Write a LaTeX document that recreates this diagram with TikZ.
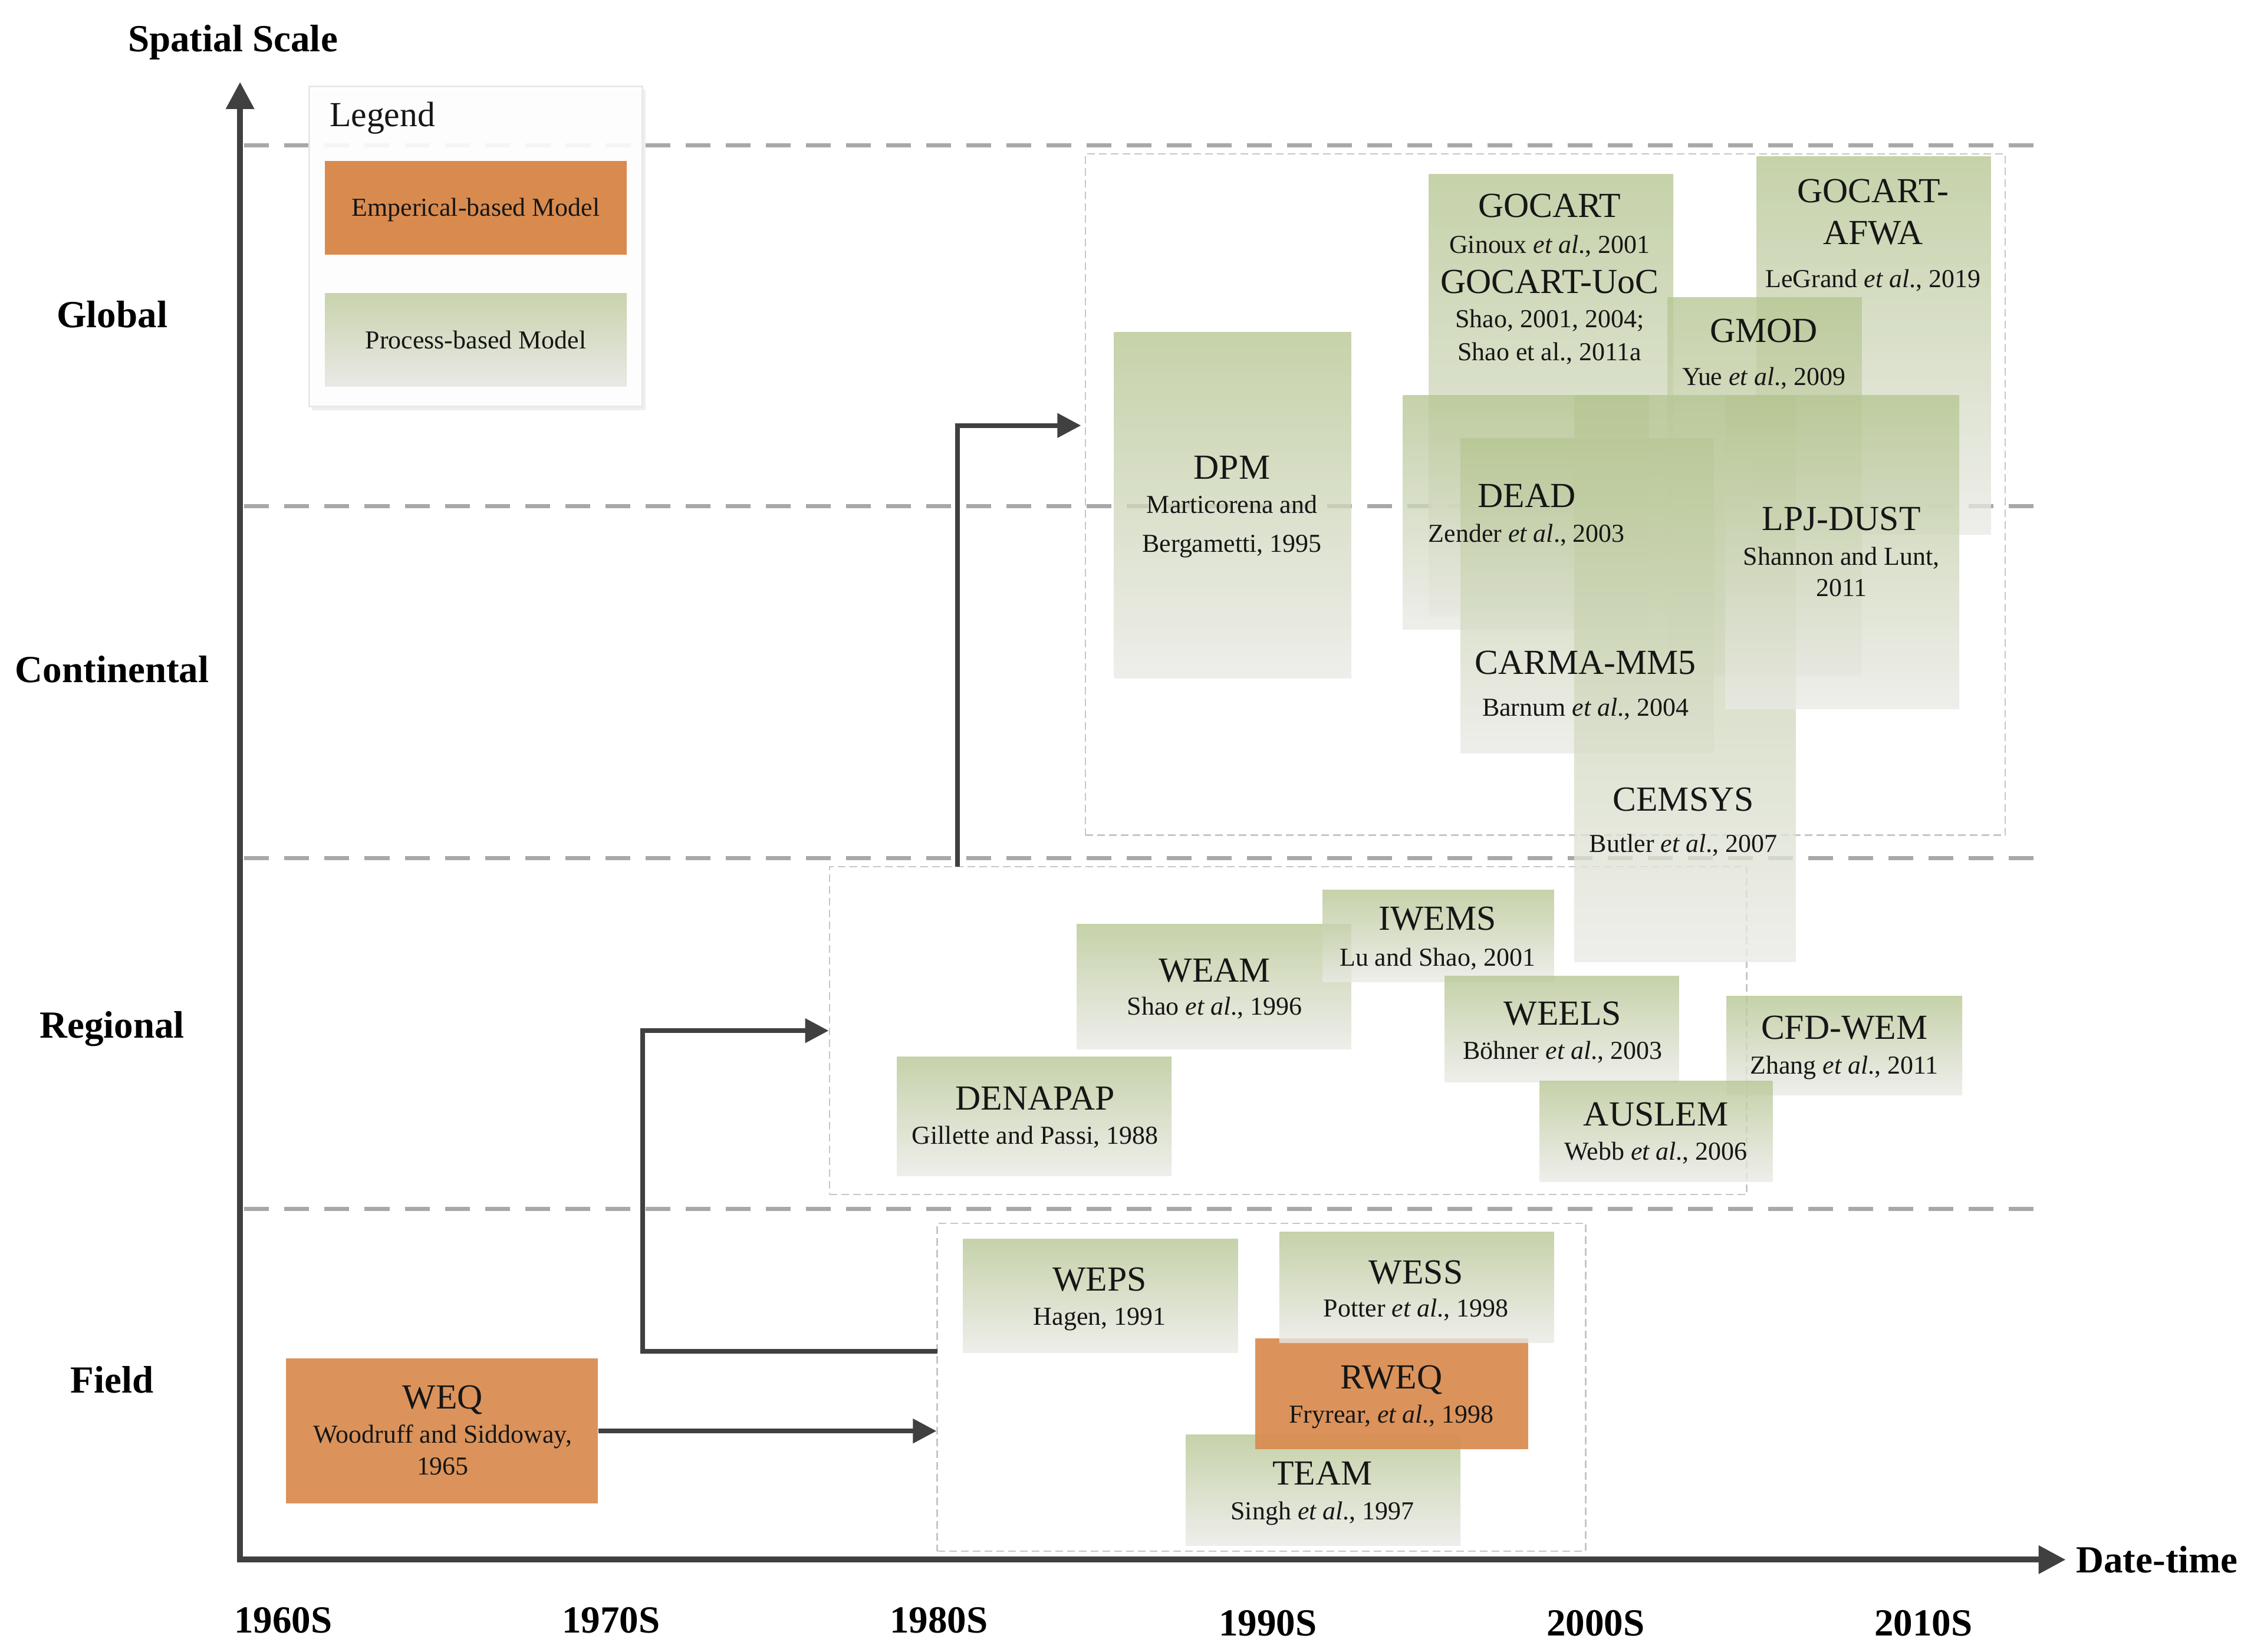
\documentclass[tikz,border=0pt]{standalone}
\usepackage{fontspec}
\setmainfont{Liberation Serif}
\usetikzlibrary{fit,arrows.meta,shadows}
\definecolor{gtop}{RGB}{182,198,146}
\definecolor{gbot}{RGB}{234,234,230}
\definecolor{ltop}{RGB}{201,211,173}
\definecolor{lbot}{RGB}{233,233,230}
\definecolor{orng}{RGB}{217,139,79}
\definecolor{dgray}{RGB}{64,64,64}
\definecolor{lgray}{RGB}{168,168,168}
\definecolor{txt}{RGB}{22,22,22}
\newcommand\mdlname{\fontsize{17}{19}\selectfont}
\newcommand\mdlcite{\fontsize{12.5}{14}\selectfont}
\newcommand\axlab{\fontsize{18.5}{21}\selectfont\bfseries}
\newcommand\pbx[5]{\node[pbox, fit={(#2,#3) (#4,#5)}] (#1) {};}
\newcommand\ebx[5]{\node[ebox, fit={(#2,#3) (#4,#5)}] (#1) {};}
\tikzset{
  pbox/.style={inner sep=0pt, top color=gtop, bottom color=gbot, fill opacity=0.78, draw=none},
  lbox/.style={inner sep=0pt, top color=ltop, bottom color=lbot, draw=none},
  ebox/.style={inner sep=0pt, fill=orng, fill opacity=0.93, draw=none},
  legbox/.style={inner sep=0pt, fill=white, fill opacity=0.9, draw=gray!18, line width=0.3mm,
     drop shadow={opacity=0.12, shadow xshift=0.5mm, shadow yshift=-0.6mm}},
  grp/.style={inner sep=0pt, draw=gray!45, line width=0.25mm, dash pattern=on 1.3mm off 0.7mm},
  lvl/.style={draw=lgray, line width=0.7mm, dash pattern=on 4.2mm off 2.6mm},
  conn/.style={draw=dgray, line width=0.8mm, -{Triangle[length=4mm,width=4mm]}},
  axis/.style={draw=dgray, line width=1mm, {Triangle[length=4.6mm,width=4.6mm]}-{Triangle[length=4.6mm,width=4.6mm]}},
  nm/.style={font=\mdlname, text=txt, inner sep=0pt, text height=11.2pt, text depth=0pt},
  ct/.style={font=\mdlcite, text=txt, inner sep=0pt, text height=8.3pt, text depth=0pt},
  lab/.style={font=\axlab, text=black, inner sep=0pt, text height=12.3pt, text depth=0pt}
}
\begin{document}
\begin{tikzpicture}[x=0.24381mm,y=-0.24381mm]
\useasboundingbox[fill=white] (0,0) rectangle (1568,1149);

% level separators
\foreach \yy/\lv in {101/lg,352/lc,597/lr,841/lf}{
  \coordinate (\lv a) at (170,\yy);
  \coordinate (\lv b) at (1415,\yy);
  \draw[lvl] (\lv a) -- (\lv b);
}

% group boxes
\node[grp, fit={(755,107) (1395,581)}] (global) {};
\node[grp, fit={(577,603) (1215,831)}] (regional) {};
\node[grp, fit={(652,851) (1103,1079)}] (field) {};

% legend
\node[legbox, fit={(215,60) (447,283)}] (legend) {};
\node[nm, anchor=west] (legT) at (229,80) {Legend};
\node[ebox, fill opacity=1, fit={(226,112) (436,177)}] (legE) {};
\node[ct] (legEt) at (legE.center) {Emperical-based Model};
\node[lbox, fit={(226,204) (436,269)}] (legP) {};
\node[ct] (legPt) at (legP.center) {Process-based Model};

% global / continental models
\pbx{dpm}{775}{231}{940}{472}
\pbx{gocart}{994}{121}{1164}{429}
\pbx{afwa}{1222}{109}{1385}{372}
\pbx{gmod}{1160}{207}{1295}{470}
\pbx{dead}{976}{275}{1147}{438}
\pbx{carma}{1016}{305}{1192}{524}
\pbx{cemsys}{1095}{275}{1249}{669}
\pbx{lpj}{1200}{275}{1363}{493}

% regional models
\pbx{weam}{749}{643}{940}{730}
\pbx{iwems}{920}{619}{1081}{683}
\pbx{weels}{1005}{679}{1168}{753}
\pbx{cfd}{1201}{693}{1365}{762}
\pbx{auslem}{1071}{752}{1233}{822}
\pbx{denapap}{624}{735}{815}{818}

% field models
\ebx{weq}{199}{945}{416}{1046}
\pbx{weps}{670}{862}{861}{941}
\pbx{team}{825}{998}{1016}{1075}
\ebx{rweq}{873}{931}{1063}{1008}
\pbx{wess}{890}{857}{1081}{934}

% texts
\node[nm] (dpmN) at (857,325) {DPM};
\node[ct] (dpmC1) at (857,351) {Marticorena and};
\node[ct] (dpmC2) at (857,378) {Bergametti, 1995};

\node[nm] (gocN) at (1078,143) {GOCART};
\node[ct] (gocC) at (1078,170) {Ginoux \textit{et al}., 2001};
\node[nm] (uocN) at (1078,196) {GOCART-UoC};
\node[ct] (uocC1) at (1078,222) {Shao, 2001, 2004;};
\node[ct] (uocC2) at (1078,245) {Shao et al., 2011a};

\node[nm] (afwaN1) at (1303,133) {GOCART-};
\node[nm] (afwaN2) at (1303,162) {AFWA};
\node[ct] (afwaC) at (1303,194) {LeGrand \textit{et al}., 2019};

\node[nm] (gmodN) at (1227,230) {GMOD};
\node[ct] (gmodC) at (1227,262) {Yue \textit{et al}., 2009};

\node[nm] (deadN) at (1062,345) {DEAD};
\node[ct] (deadC) at (1062,371) {Zender \textit{et al}., 2003};

\node[nm] (lpjN) at (1281,361) {LPJ-DUST};
\node[ct] (lpjC1) at (1281,387) {Shannon and Lunt,};
\node[ct] (lpjC2) at (1281,409) {2011};

\node[nm] (carmaN) at (1103,461) {CARMA-MM5};
\node[ct] (carmaC) at (1103,492) {Barnum \textit{et al}., 2004};

\node[nm] (cemN) at (1171,556) {CEMSYS};
\node[ct] (cemC) at (1171,587) {Butler \textit{et al}., 2007};

\node[nm] (iwemsN) at (1000,639) {IWEMS};
\node[ct] (iwemsC) at (1000,666) {Lu and Shao, 2001};

\node[nm] (weamN) at (845,675) {WEAM};
\node[ct] (weamC) at (845,700) {Shao \textit{et al}., 1996};

\node[nm] (weelsN) at (1087,705) {WEELS};
\node[ct] (weelsC) at (1087,731) {Böhner \textit{et al}., 2003};

\node[nm] (cfdN) at (1283,715) {CFD-WEM};
\node[ct] (cfdC) at (1283,741) {Zhang \textit{et al}., 2011};

\node[nm] (auslemN) at (1152,775) {AUSLEM};
\node[ct] (auslemC) at (1152,801) {Webb \textit{et al}., 2006};

\node[nm] (denN) at (720,764) {DENAPAP};
\node[ct] (denC) at (720,790) {Gillette and Passi, 1988};

\node[nm] (wepsN) at (765,890) {WEPS};
\node[ct] (wepsC) at (765,916) {Hagen, 1991};

\node[nm] (wessN) at (985,885) {WESS};
\node[ct] (wessC) at (985,910) {Potter \textit{et al}., 1998};

\node[nm] (rweqN) at (968,958) {RWEQ};
\node[ct] (rweqC) at (968,984) {Fryrear, \textit{et al}., 1998};

\node[nm] (teamN) at (920,1025) {TEAM};
\node[ct] (teamC) at (920,1051) {Singh \textit{et al}., 1997};

\node[nm] (weqN) at (308,972) {WEQ};
\node[ct] (weqC1) at (308,998) {Woodruff and Siddoway,};
\node[ct] (weqC2) at (308,1020) {1965};

% connectors
\draw[conn] (weq.east) -- (weq.east -| field.west);
\coordinate (c2s) at (652,940);
\coordinate (c2m) at (447,940);
\draw[conn] (c2s) -- (c2m) |- (regional.west);
\coordinate (c3s) at (666,603);
\coordinate (c3e) at (752,296);
\draw[conn] (c3s) |- (c3e);

% axes
\coordinate (origin) at (167,1085);
\coordinate (ytip) at (167,57);
\coordinate (xtip) at (1437,1085);
\draw[axis] (ytip) -- (origin) -- (xtip);
\node[lab] (yl) at (162,27) {Spatial Scale};
\node[lab, anchor=west] (xl) at (1444,1085) {Date-time};

\node[lab] (lglobal) at (78,219) {Global};
\node[lab] (lcont) at (78,466) {Continental};
\node[lab] (lreg) at (78,713) {Regional};
\node[lab] (lfield) at (78,960) {Field};

\node[lab] (y60) at (197,1127) {1960S};
\node[lab] (y70) at (425,1127) {1970S};
\node[lab] (y80) at (653,1127) {1980S};
\node[lab] (y90) at (882,1129) {1990S};
\node[lab] (y00) at (1110,1129) {2000S};
\node[lab] (y10) at (1338,1129) {2010S};
\end{tikzpicture}
\end{document}
